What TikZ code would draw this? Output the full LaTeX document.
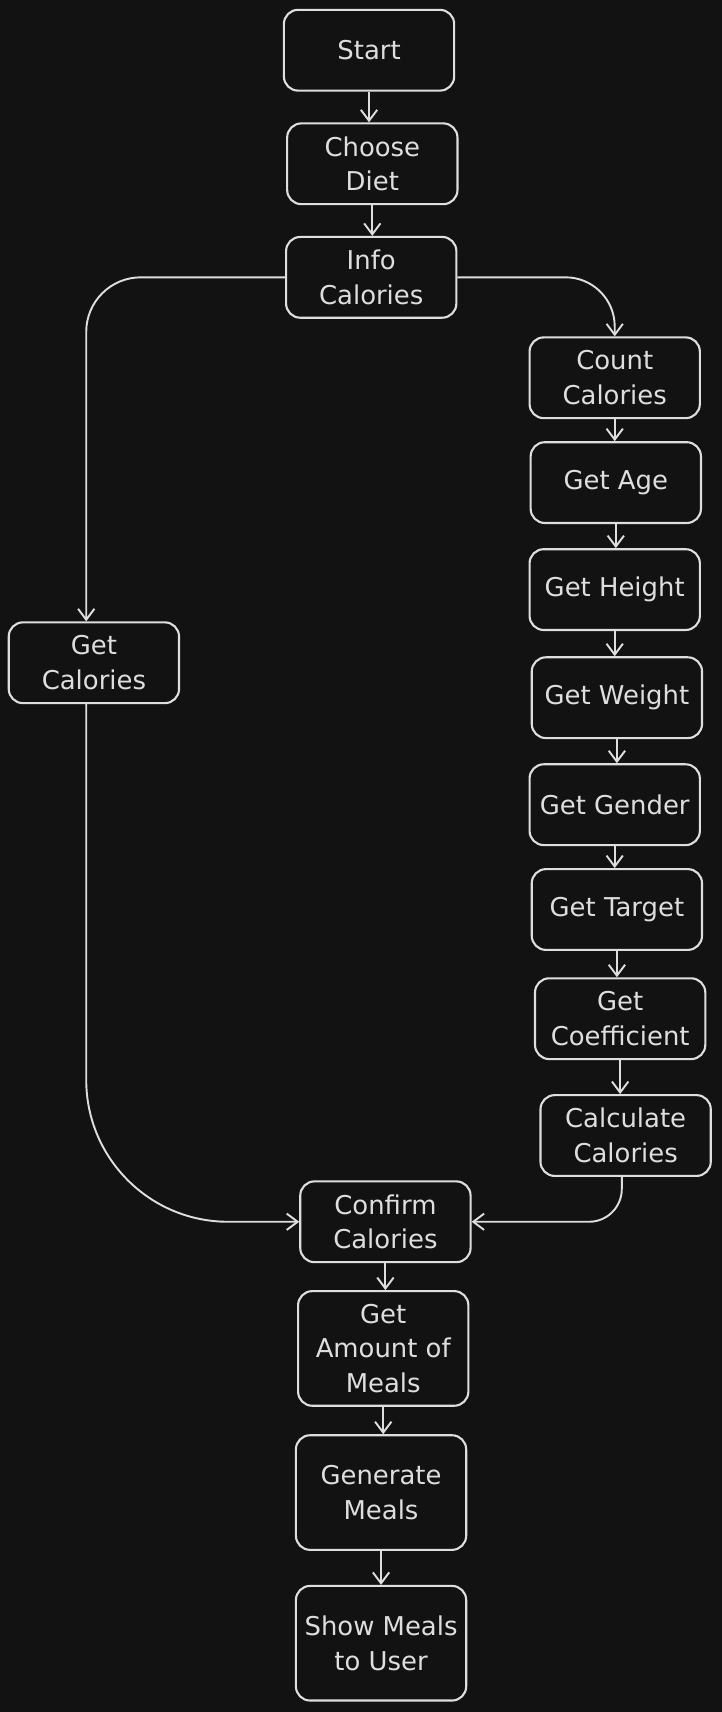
\documentclass[tikz,border=0pt]{standalone}
\usepackage{fontspec}
\setmainfont{DejaVu Sans}
\usetikzlibrary{arrows.meta}
\definecolor{bg}{RGB}{18,18,18}
\definecolor{fg}{RGB}{222,222,222}
\begin{document}
\begin{tikzpicture}[x=0.02cm,y=-0.02cm,
 box/.style={draw=fg, line width=1.1pt, rounded corners=0.26cm, minimum width=3.12cm, minimum height=1.48cm, align=center, text=fg, inner sep=2pt, font=\fontsize{13.5}{18}\selectfont},
 tall/.style={box, minimum height=2.1cm},
 arr/.style={draw=fg, line width=1pt, -{Straight Barb[length=0.2cm,width=0.3cm]}},
]
\fill[bg] (0,0) rectangle (661,1568);
\useasboundingbox (0,0) rectangle (661,1568);

\node[box] (start) at (338,46) {Start};
\node[box] (choose) at (341,150) {Choose\\Diet};
\node[box] (info) at (340,254) {Info\\Calories};
\node[box] (count) at (563,346) {Count\\Calories};
\node[box] (age) at (564,442) {Get Age};
\node[box] (height) at (563,540) {Get Height};
\node[box] (weight) at (565,639) {Get Weight};
\node[box] (gender) at (563,737) {Get Gender};
\node[box] (target) at (565,833) {Get Target};
\node[box] (coef) at (568,933) {Get\\Coefficient};
\node[box] (calc) at (573,1040) {Calculate\\Calories};
\node[box] (getcal) at (86,607) {Get\\Calories};
\node[box] (confirm) at (353,1119) {Confirm\\Calories};
\node[tall] (amount) at (351,1235) {Get\\Amount of\\Meals};
\node[tall] (generate) at (349,1367) {Generate\\Meals};
\node[tall] (show) at (349,1505) {Show Meals\\to User};

\draw[arr] (start.south) -- (start.south |- choose.north);
\draw[arr] (choose.south) -- (choose.south |- info.north);
\draw[arr, rounded corners=0.9cm] (info.east) -| (count.north);
\draw[arr, rounded corners=1cm] (info.west) -| ([xshift=-4pt]getcal.north);
\draw[arr] (count.south) -- (count.south |- age.north);
\draw[arr] (age.south) -- (age.south |- height.north);
\draw[arr] (height.south) -- (height.south |- weight.north);
\draw[arr] (weight.south) -- (weight.south |- gender.north);
\draw[arr] (gender.south) -- (gender.south |- target.north);
\draw[arr] (target.south) -- (target.south |- coef.north);
\draw[arr] (coef.south) -- (coef.south |- calc.north);
\draw[arr, rounded corners=2.6cm] ([xshift=-4pt]getcal.south) |- (confirm.west);
\draw[arr, rounded corners=0.6cm] ([xshift=-2pt]calc.south) |- (confirm.east);
\draw[arr] (confirm.south) -- (confirm.south |- amount.north);
\draw[arr] (amount.south) -- (amount.south |- generate.north);
\draw[arr] (generate.south) -- (generate.south |- show.north);
\end{tikzpicture}
\end{document}
